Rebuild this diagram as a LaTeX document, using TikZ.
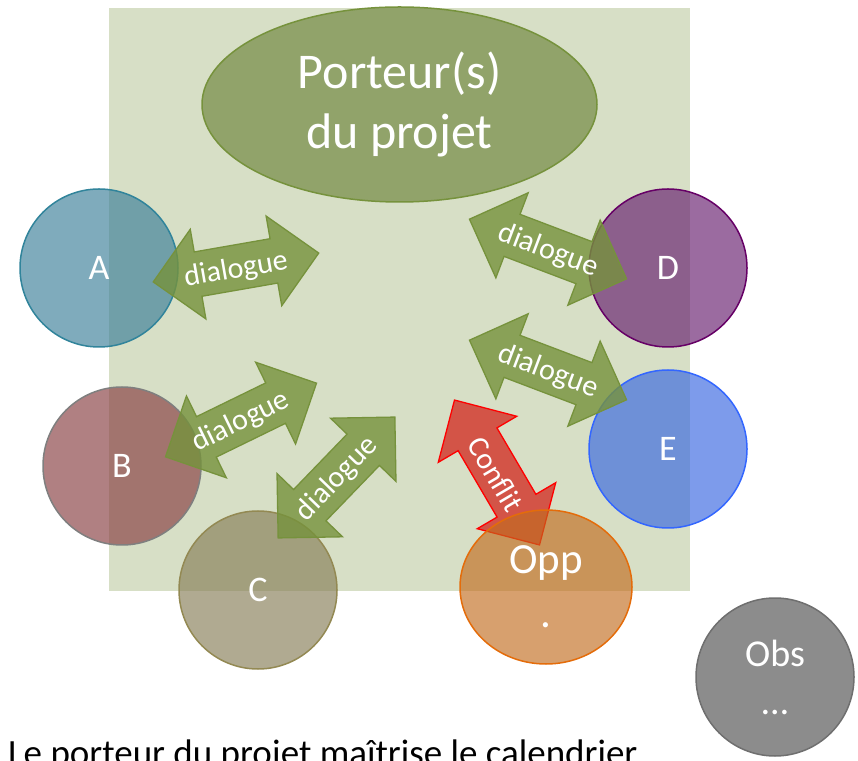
\documentclass[tikz,border=0pt]{standalone}
\usepackage{fontspec}
\setmainfont{Carlito}
\usetikzlibrary{shapes.geometric}

\definecolor{panel}{HTML}{D7DFC6}
\definecolor{oliveedge}{HTML}{76923C}
\definecolor{ellfill}{HTML}{91A36A}
\definecolor{cA}{HTML}{3A7E98}\definecolor{eA}{HTML}{31849B}
\definecolor{cB}{HTML}{863C3F}\definecolor{eB}{HTML}{7F7F7F}
\definecolor{cC}{HTML}{867D56}\definecolor{eC}{HTML}{938953}
\definecolor{cD}{HTML}{651B6D}\definecolor{eD}{HTML}{660066}
\definecolor{cE}{HTML}{3766E1}\definecolor{eE}{HTML}{3366FF}
\definecolor{cO}{HTML}{C26D20}\definecolor{eO}{HTML}{E46C0A}
\definecolor{cS}{HTML}{4E4E4E}\definecolor{eS}{HTML}{6F6F6F}
\definecolor{redfill}{HTML}{D23228}

\begin{document}
\begin{tikzpicture}[x=1pt,y=1pt,
  party/.style={circle, minimum size=158, inner sep=0pt, line width=1.5pt,
    fill opacity=0.65, text opacity=1, text=white,
    font=\fontsize{36}{42}\selectfont},
  greenway/.style={draw=oliveedge, fill=oliveedge, fill opacity=0.8, line width=1.3pt},
  redway/.style={draw=red, fill=redfill, fill opacity=0.8, line width=1.3pt},
  waylabel/.style={text=white, inner sep=0pt, font=\fontsize{30}{32}\selectfont},
  pics/twoway/.style={code={
    \path[pic actions] (-84,0) -- (-38.5,45.5) -- (-38.5,22.5) -- (38.5,22.5)
      -- (38.5,45.5) -- (84,0) -- (38.5,-45.5) -- (38.5,-22.5)
      -- (-38.5,-22.5) -- (-38.5,-45.5) -- cycle;}}
]
\useasboundingbox (0,0) rectangle (858,760);
\clip (0,0) rectangle (858,760);

% background panel
\fill[panel] (109,169) rectangle (690,752);

% project holders
\node[ellipse, minimum width=395, minimum height=195, inner sep=0pt,
  fill=ellfill, draw=oliveedge, line width=1.5pt, text=white, align=center,
  font=\fontsize{50}{60}\selectfont] (porteur) at (399.5,655.5) {Porteur(s)\\du projet};

% stakeholders
\node[party, fill=cA, draw=eA] (A) at (99,492) {A};
\node[party, fill=cB, draw=eB] (B) at (122,294) {B};
\node[party, fill=cC, draw=eC] (C) at (258,170) {C};
\node[party, fill=cD, draw=eD] (D) at (668,492) {D};
\node[party, fill=cE, draw=eE] (E) at (668,311) {E};

% dialogue arrows
\pic[greenway, rotate=9.9] at (236,492.5) {twoway};
\node[waylabel, rotate=9.9] (dA) at (236,490) {dialogue};
\pic[greenway, rotate=26] at (241,340) {twoway};
\node[waylabel, rotate=26] (dB) at (241,338) {dialogue};
\pic[greenway, rotate=46] at (336.5,282.5) {twoway};
\node[waylabel, rotate=46] (dC) at (337,281) {dialogue};
\pic[greenway, rotate=-20.8] at (548,511) {twoway};
\node[waylabel, rotate=-20.8] (dD) at (548,509) {dialogue};
\pic[greenway, rotate=-20.8] at (548,390) {twoway};
\node[waylabel, rotate=-20.8] (dE) at (548,388) {dialogue};

% conflict arrow
\pic[redway, rotate=-59.6] at (497,287.5) {twoway};
\node[waylabel, rotate=-59.6] (cf) at (496,286) {Conflit};

% opponent and observers
\node[party, ellipse, minimum width=172, minimum height=154, fill=cO, draw=eO,
  align=center, font=\fontsize{43}{54}\selectfont] (opp) at (546,173) {Opp\\.};
\node[party, fill=cS, draw=eS, align=center,
  font=\fontsize{38}{48}\selectfont] (obs) at (775,83) {Obs\\…};

% caption
\node[anchor=base west, inner sep=0pt, font=\fontsize{37}{44}\selectfont]
  (caption) at (8,-5) {Le porteur du projet maîtrise le calendrier};
\end{tikzpicture}
\end{document}
